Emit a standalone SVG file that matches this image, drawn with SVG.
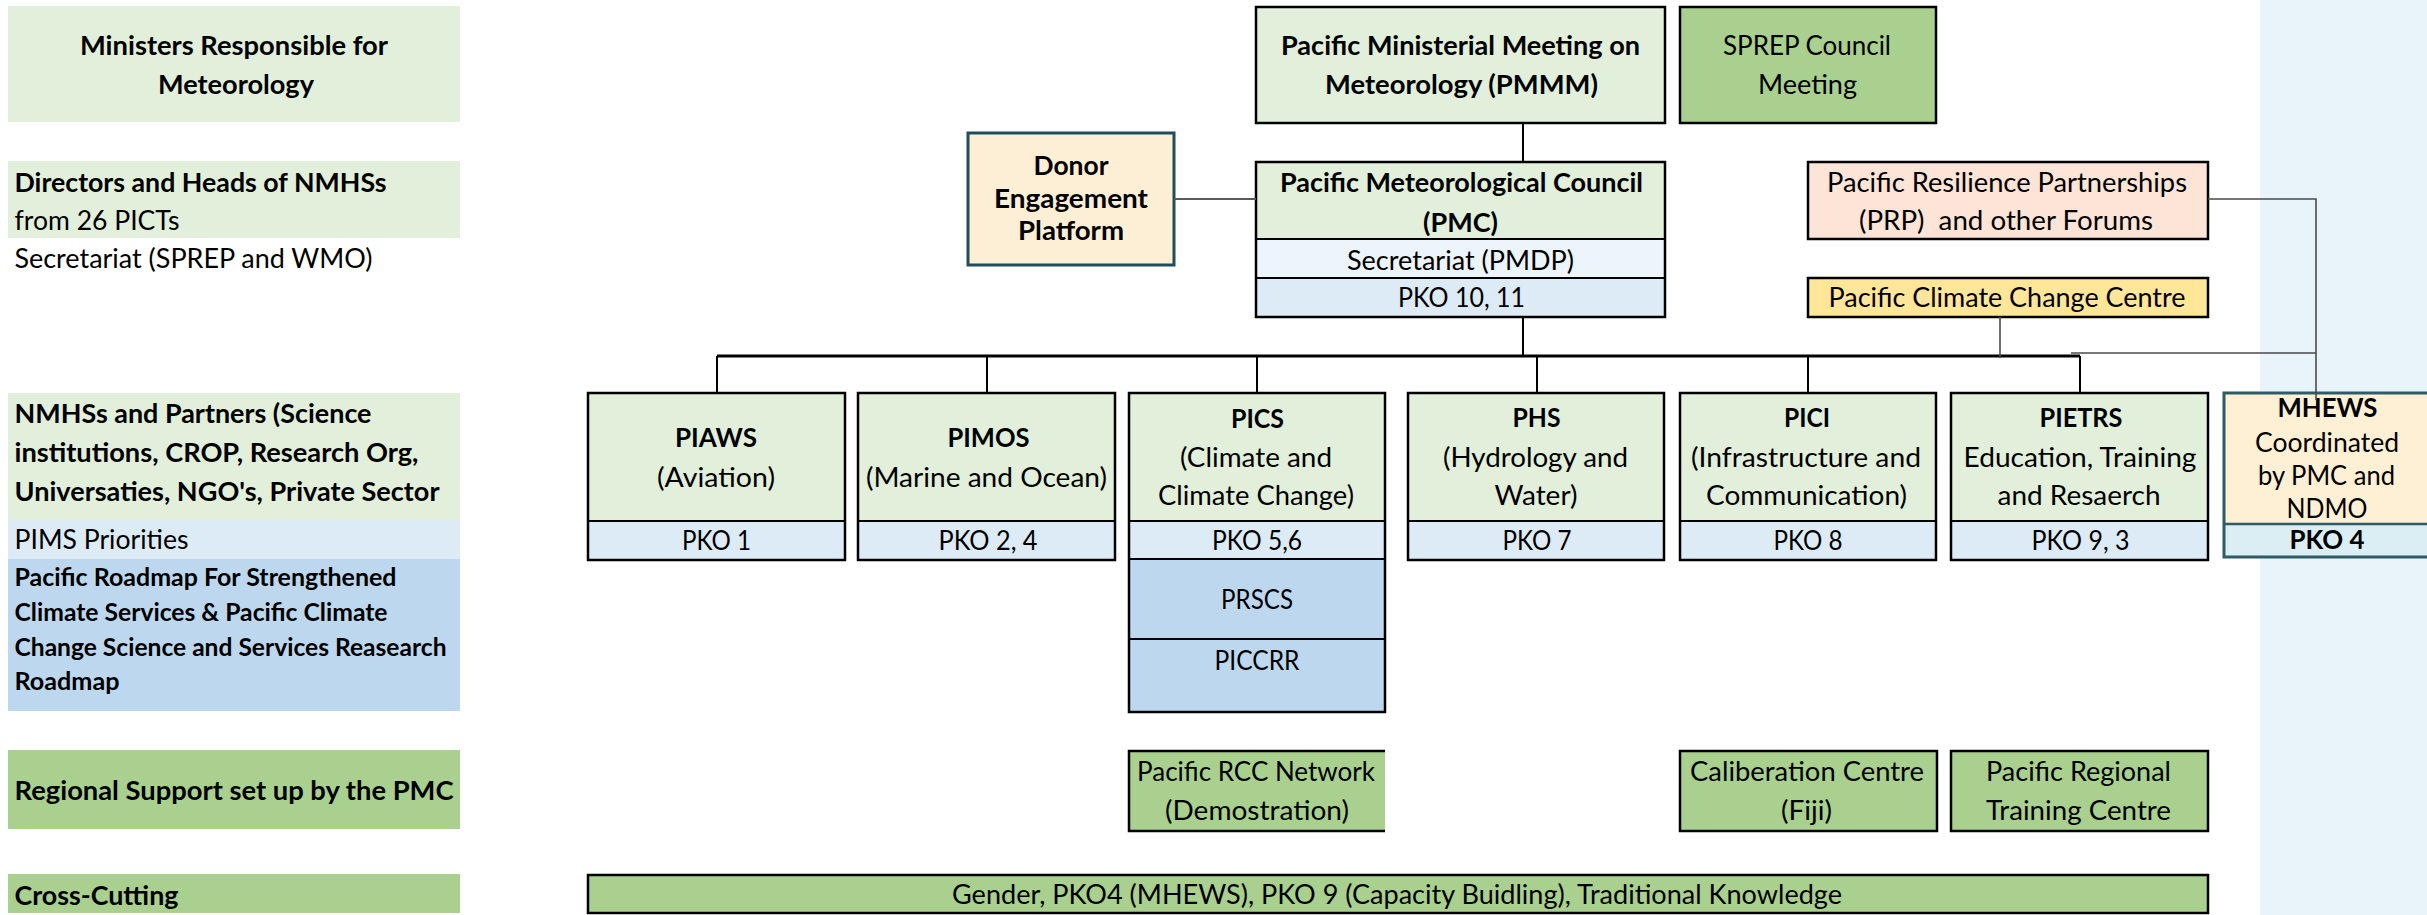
<svg xmlns="http://www.w3.org/2000/svg" width="2427" height="915" viewBox="0 0 2427 915">
<style>
text{font-family:Lato,"Liberation Sans",sans-serif;font-size:27px;fill:#000}
.b{font-weight:bold}
.c{text-anchor:middle}
.s{font-size:25px}
.k{stroke:#000;stroke-width:2.5}
.n{stroke:none}
.g1{fill:#E2EFDA}
.g2{fill:#A9D08E}
.bl{fill:#DDEBF7}
.bl2{fill:#BDD7EE}
.bl3{fill:#EBF5FB}
.con{fill:none;stroke:#000;stroke-width:2}
.gry{fill:none;stroke:#4a4a4a;stroke-width:1.6}
</style>
<rect x="0" y="0" width="2427" height="915" fill="#ffffff"/>
<rect x="2260" y="0" width="167" height="915" fill="#E8F4FA"/>

<g id="left-labels">
<g id="lbl-ministers">
<rect class="g1" x="8" y="6" width="452" height="116"/>
<text class="b c" x="234" y="55" textLength="308" lengthAdjust="spacingAndGlyphs">Ministers Responsible for</text>
<text class="b c" x="236" y="94" textLength="156" lengthAdjust="spacingAndGlyphs">Meteorology</text>
</g>
<g id="lbl-directors">
<rect class="g1" x="8" y="161" width="452" height="77"/>
<text class="b" x="14.5" y="192" textLength="372" lengthAdjust="spacingAndGlyphs">Directors and Heads of NMHSs</text>
<text x="14.5" y="230" textLength="165" lengthAdjust="spacingAndGlyphs">from 26 PICTs</text>
<text x="14.5" y="268" textLength="358" lengthAdjust="spacingAndGlyphs">Secretariat (SPREP and WMO)</text>
</g>
<g id="lbl-nmhss">
<rect class="g1" x="8" y="393" width="452" height="127"/>
<rect class="bl" x="8" y="520" width="452" height="39"/>
<rect class="bl2" x="8" y="559" width="452" height="152"/>
<text class="b" x="14.5" y="423" textLength="357" lengthAdjust="spacingAndGlyphs">NMHSs and Partners (Science</text>
<text class="b" x="14.5" y="462" textLength="404" lengthAdjust="spacingAndGlyphs">institutions, CROP, Research Org,</text>
<text class="b" x="14.5" y="501" textLength="425" lengthAdjust="spacingAndGlyphs">Universaties, NGO's, Private Sector</text>
<text x="14.5" y="549" textLength="174" lengthAdjust="spacingAndGlyphs">PIMS Priorities</text>
<text class="b s" x="14.5" y="586" textLength="382" lengthAdjust="spacingAndGlyphs">Pacific Roadmap For Strengthened</text>
<text class="b s" x="14.5" y="621" textLength="373" lengthAdjust="spacingAndGlyphs">Climate Services &amp; Pacific Climate</text>
<text class="b s" x="14.5" y="656" textLength="432" lengthAdjust="spacingAndGlyphs">Change Science and Services Reasearch</text>
<text class="b s" x="14.5" y="690" textLength="105" lengthAdjust="spacingAndGlyphs">Roadmap</text>
</g>
<g id="lbl-regional">
<rect class="g2" x="8" y="750" width="452" height="79"/>
<text class="b" x="14.5" y="800" textLength="439" lengthAdjust="spacingAndGlyphs">Regional Support set up by the PMC</text>
</g>
<g id="lbl-cross">
<rect class="g2" x="8" y="874" width="452" height="39"/>
<text class="b" x="14.5" y="905" textLength="164" lengthAdjust="spacingAndGlyphs">Cross-Cutting</text>
</g>
</g>

<g id="pmmm">
<rect class="g1 k" x="1256" y="7" width="409" height="116"/>
<text class="b c" x="1460.5" y="55" textLength="359" lengthAdjust="spacingAndGlyphs">Pacific Ministerial Meeting on</text>
<text class="b c" x="1461.5" y="94" textLength="273" lengthAdjust="spacingAndGlyphs">Meteorology (PMMM)</text>
</g>
<g id="sprep">
<rect class="g2 k" x="1680" y="7" width="256" height="116"/>
<text class="c" x="1807" y="55" textLength="168" lengthAdjust="spacingAndGlyphs">SPREP Council</text>
<text class="c" x="1807.5" y="94" textLength="99" lengthAdjust="spacingAndGlyphs">Meeting</text>
</g>
<g id="donor">
<rect x="968" y="133" width="206" height="132" fill="#FDEFD6" stroke="#1F4E5A" stroke-width="3"/>
<text class="b c" x="1071" y="175" textLength="75" lengthAdjust="spacingAndGlyphs">Donor</text>
<text class="b c" x="1071" y="208" textLength="154" lengthAdjust="spacingAndGlyphs">Engagement</text>
<text class="b c" x="1071" y="240" textLength="106" lengthAdjust="spacingAndGlyphs">Platform</text>
</g>
<g id="pmc">
<rect class="g1 n" x="1256" y="162" width="409" height="77"/>
<rect class="bl3 n" x="1256" y="239" width="409" height="39"/>
<rect class="bl n" x="1256" y="278" width="409" height="39"/>
<path d="M1256,239 H1665 M1256,278 H1665" class="con"/>
<rect x="1256" y="162" width="409" height="155" fill="none" class="k"/>
<text class="b c" x="1461.5" y="192" textLength="363" lengthAdjust="spacingAndGlyphs">Pacific Meteorological Council</text>
<text class="b c" x="1460.5" y="232" textLength="75" lengthAdjust="spacingAndGlyphs">(PMC)</text>
<text class="c" x="1460.5" y="270" textLength="227" lengthAdjust="spacingAndGlyphs">Secretariat (PMDP)</text>
<text class="c" x="1461.5" y="307" textLength="127" lengthAdjust="spacingAndGlyphs">PKO 10, 11</text>
</g>
<g id="prp">
<rect class="k" x="1808" y="162" width="400" height="77" fill="#FCE4D6"/>
<text class="c" x="2007" y="192" textLength="360" lengthAdjust="spacingAndGlyphs">Pacific Resilience Partnerships</text>
<text class="c" x="2006" y="230" textLength="294" lengthAdjust="spacingAndGlyphs" style="white-space:pre">(PRP)  and other Forums</text>
</g>
<g id="pccc">
<rect class="k" x="1808" y="278" width="400" height="39" fill="#FFE699"/>
<text class="c" x="2007" y="307" textLength="357" lengthAdjust="spacingAndGlyphs">Pacific Climate Change Centre</text>
</g>

<g id="piaws">
<rect class="g1 n" x="588" y="393" width="257" height="128"/>
<rect class="bl n" x="588" y="521" width="257" height="39"/>
<path d="M588,521 H845" class="con"/>
<rect x="588" y="393" width="257" height="167" fill="none" class="k"/>
<text class="b c" x="716" y="447" textLength="82" lengthAdjust="spacingAndGlyphs">PIAWS</text>
<text class="c" x="716" y="487" textLength="118" lengthAdjust="spacingAndGlyphs">(Aviation)</text>
<text class="c" x="716.5" y="550" textLength="69" lengthAdjust="spacingAndGlyphs">PKO 1</text>
</g>
<g id="pimos">
<rect class="g1 n" x="858" y="393" width="257" height="128"/>
<rect class="bl n" x="858" y="521" width="257" height="39"/>
<path d="M858,521 H1115" class="con"/>
<rect x="858" y="393" width="257" height="167" fill="none" class="k"/>
<text class="b c" x="988.5" y="447" textLength="82" lengthAdjust="spacingAndGlyphs">PIMOS</text>
<text class="c" x="986.5" y="487" textLength="241" lengthAdjust="spacingAndGlyphs">(Marine and Ocean)</text>
<text class="c" x="988" y="550" textLength="99" lengthAdjust="spacingAndGlyphs">PKO 2, 4</text>
</g>
<g id="pics">
<rect class="g1 n" x="1129" y="393" width="256" height="128"/>
<rect class="bl n" x="1129" y="521" width="256" height="38"/>
<rect class="bl2 n" x="1129" y="559" width="256" height="153"/>
<path d="M1129,521 H1385 M1129,559 H1385 M1129,639 H1385" class="con"/>
<rect x="1129" y="393" width="256" height="319" fill="none" class="k"/>
<text class="b c" x="1257.5" y="428" textLength="53" lengthAdjust="spacingAndGlyphs">PICS</text>
<text class="c" x="1256" y="467" textLength="152" lengthAdjust="spacingAndGlyphs">(Climate and</text>
<text class="c" x="1256" y="505" textLength="196" lengthAdjust="spacingAndGlyphs">Climate Change)</text>
<text class="c" x="1257" y="550" textLength="90" lengthAdjust="spacingAndGlyphs">PKO 5,6</text>
<text class="c" x="1257" y="609" textLength="72" lengthAdjust="spacingAndGlyphs">PRSCS</text>
<text class="c" x="1257" y="670" textLength="85" lengthAdjust="spacingAndGlyphs">PICCRR</text>
</g>
<g id="phs">
<rect class="g1 n" x="1408" y="393" width="256" height="128"/>
<rect class="bl n" x="1408" y="521" width="256" height="39"/>
<path d="M1408,521 H1664" class="con"/>
<rect x="1408" y="393" width="256" height="167" fill="none" class="k"/>
<text class="b c" x="1536.5" y="427" textLength="48" lengthAdjust="spacingAndGlyphs">PHS</text>
<text class="c" x="1535.5" y="467" textLength="185" lengthAdjust="spacingAndGlyphs">(Hydrology and</text>
<text class="c" x="1536" y="505" textLength="83" lengthAdjust="spacingAndGlyphs">Water)</text>
<text class="c" x="1537" y="550" textLength="69" lengthAdjust="spacingAndGlyphs">PKO 7</text>
</g>
<g id="pici">
<rect class="g1 n" x="1680" y="393" width="256" height="128"/>
<rect class="bl n" x="1680" y="521" width="256" height="39"/>
<path d="M1680,521 H1936" class="con"/>
<rect x="1680" y="393" width="256" height="167" fill="none" class="k"/>
<text class="b c" x="1807" y="427" textLength="46" lengthAdjust="spacingAndGlyphs">PICI</text>
<text class="c" x="1806" y="467" textLength="230" lengthAdjust="spacingAndGlyphs">(Infrastructure and</text>
<text class="c" x="1806.5" y="505" textLength="201" lengthAdjust="spacingAndGlyphs">Communication)</text>
<text class="c" x="1808" y="550" textLength="69" lengthAdjust="spacingAndGlyphs">PKO 8</text>
</g>
<g id="pietrs">
<rect class="g1 n" x="1951" y="393" width="257" height="128"/>
<rect class="bl n" x="1951" y="521" width="257" height="39"/>
<path d="M1951,521 H2208" class="con"/>
<rect x="1951" y="393" width="257" height="167" fill="none" class="k"/>
<text class="b c" x="2081" y="427" textLength="83" lengthAdjust="spacingAndGlyphs">PIETRS</text>
<text class="c" x="2080" y="467" textLength="233" lengthAdjust="spacingAndGlyphs">Education, Training</text>
<text class="c" x="2079" y="505" textLength="163" lengthAdjust="spacingAndGlyphs">and Resaerch</text>
<text class="c" x="2080.5" y="550" textLength="98" lengthAdjust="spacingAndGlyphs">PKO 9, 3</text>
</g>
<g id="mhews">
<rect x="2224" y="393" width="210" height="131" fill="#FEF0D4" stroke="none"/>
<rect x="2224" y="524" width="210" height="33" fill="#DAEEF3" stroke="none"/>
<path d="M2224,524 H2434" fill="none" stroke="#2F5B66" stroke-width="2.5"/>
<rect x="2224" y="393" width="210" height="164" fill="none" stroke="#2F5B66" stroke-width="3"/>
<text class="b c" x="2327.5" y="417" textLength="100" lengthAdjust="spacingAndGlyphs">MHEWS</text>
<text class="c" x="2327" y="452" textLength="144" lengthAdjust="spacingAndGlyphs">Coordinated</text>
<text class="c" x="2326.5" y="485" textLength="137" lengthAdjust="spacingAndGlyphs">by PMC and</text>
<text class="c" x="2327" y="518" textLength="81" lengthAdjust="spacingAndGlyphs">NDMO</text>
<text class="b c" x="2327" y="549" textLength="75" lengthAdjust="spacingAndGlyphs">PKO 4</text>
</g>

<g id="rcc">
<rect class="g2" x="1129" y="751" width="256" height="80"/>
<path d="M1385,751 H1129 V831 H1385" fill="none" class="k"/>
<text class="c" x="1256" y="781" textLength="238" lengthAdjust="spacingAndGlyphs">Pacific RCC Network</text>
<text class="c" x="1257" y="820" textLength="184" lengthAdjust="spacingAndGlyphs">(Demostration)</text>
</g>
<g id="calib">
<rect class="g2 k" x="1680" y="751" width="257" height="80"/>
<text class="c" x="1807" y="781" textLength="234" lengthAdjust="spacingAndGlyphs">Caliberation Centre</text>
<text class="c" x="1806.5" y="820" textLength="51" lengthAdjust="spacingAndGlyphs">(Fiji)</text>
</g>
<g id="prtc">
<rect class="g2 k" x="1951" y="751" width="257" height="80"/>
<text class="c" x="2078.5" y="781" textLength="185" lengthAdjust="spacingAndGlyphs">Pacific Regional</text>
<text class="c" x="2078.5" y="820" textLength="185" lengthAdjust="spacingAndGlyphs">Training Centre</text>
</g>
<g id="crosscut">
<rect class="g2 k" x="588" y="875" width="1620" height="38"/>
<text class="c" x="1397" y="904" textLength="890" lengthAdjust="spacingAndGlyphs">Gender, PKO4 (MHEWS), PKO 9 (Capacity Buidling), Traditional Knowledge</text>
</g>

<g id="connectors">
<path class="con" d="M1523,123 V162"/>
<path class="con" d="M1523,317 V356"/>
<path d="M717,356 H2080" fill="none" stroke="#000" stroke-width="3"/>
<path class="con" d="M717,356 V393 M987,356 V393 M1257,356 V393 M1537,356 V393 M1808,356 V393 M2080,356 V393"/>
<path d="M1174,199 H1256" fill="none" stroke="#595959" stroke-width="2"/>
<path class="gry" d="M2000,317 V358"/>
<path class="gry" d="M2208,199 H2316 V400"/>
<path class="gry" d="M2071,353 H2316"/>
</g>
</svg>
